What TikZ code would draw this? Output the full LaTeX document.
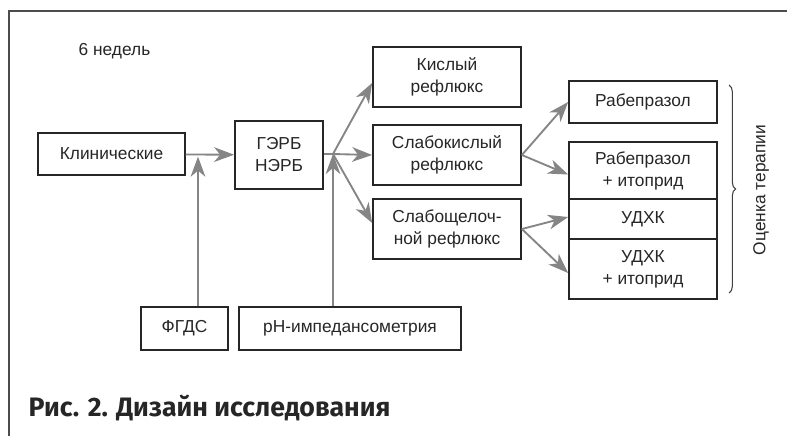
\documentclass[tikz,border=0pt]{standalone}
\usepackage{fontspec}
\setmainfont{Liberation Sans}
\newfontfamily\capfont{Fira Sans}
\usetikzlibrary{arrows.meta,decorations.pathreplacing}
\definecolor{arrgray}{HTML}{858585}
\definecolor{boxline}{HTML}{262626}
\definecolor{txtdark}{HTML}{262626}
\begin{document}
\begin{tikzpicture}[x=0.75pt,y=-0.75pt,
    box/.style={draw=boxline,line width=1.3pt,text=txtdark,align=center,inner sep=0pt,
      font=\fontsize{13}{16.5}\selectfont},
    arr/.style={draw=arrgray,line width=1.4pt,-{Stealth[length=15pt,width=11pt,inset=4.5pt]}},
    link/.style={draw=arrgray,line width=1.4pt}]
  \useasboundingbox (0,0) rectangle (787,436);
  \draw[color=black!70,line width=1.6pt] (787,11) -| (9,436);

  \node[anchor=base west,text=txtdark,font=\fontsize{13}{16}\selectfont] (weeks) at (74,55) {6 недель};

  \node[box,minimum width=110pt,minimum height=31.5pt] (klin) at (111.5,154) {Клинические};
  \node[box,minimum width=66pt,minimum height=51pt] (gerb) at (279,155) {ГЭРБ\\НЭРБ};

  \node[box,minimum width=111pt,minimum height=45pt] (kisl) at (447,77) {Кислый\\рефлюкс};
  \node[box,minimum width=111pt,minimum height=45pt] (slkisl) at (447,155) {Слабокислый\\рефлюкс};
  \node[box,minimum width=111pt,minimum height=45pt] (slsch) at (447,229) {Слабощелоч-\\ной рефлюкс};

  \node[box,minimum width=111pt,minimum height=31.5pt] (rab) at (643,102) {Рабепразол};
  \node[box,minimum width=111pt,minimum height=42.75pt] (rabit) at (643,170.5) {Рабепразол\\+ итоприд};
  \node[box,minimum width=111pt,minimum height=30pt] (udhk) at (643,219) {УДХК};
  \node[box,minimum width=111pt,minimum height=45pt] (udhkit) at (643,269) {УДХК\\+ итоприд};

  \node[box,minimum width=65.25pt,minimum height=32.25pt] (fgds) at (184.5,328.5) {ФГДС};
  \node[box,minimum width=166.5pt,minimum height=32.25pt] (ph) at (350,328.5) {pH-импедансометрия};

  \coordinate (split) at (333,154);

  \draw[arr] (klin) -- (gerb);
  \draw[arr,shorten >=2pt] (fgds.north -| 198,0) -- (198,154);
  \draw[arr] (ph.north -| split) -- (split);
  \draw[link] (gerb.east |- split) -- (split);
  \draw[arr] (split) -- ([yshift=-4.5pt]kisl.west);
  \draw[arr] (split) -- (slkisl.west);
  \draw[arr] (split) -- ([yshift=4.5pt]slsch.west);

  \draw[arr] (slkisl.east) -- (rab.west);
  \draw[arr] (slkisl.east) -- ([yshift=-3pt]rabit.west);
  \draw[arr] (slsch.east) -- ([yshift=1.5pt]udhk.west);
  \draw[arr] (slsch.east) -- ([yshift=-3pt]udhkit.west);

  \draw[draw=black!75,line width=0.8pt,decorate,decoration={brace,amplitude=5pt}]
    (729,85) -- (729,293);
  \node[rotate=90,text=txtdark,font=\fontsize{13}{16}\selectfont] (eval) at (761,190) {Оценка терапии};

  \node[anchor=base west,text=black!85,font=\capfont\bfseries\fontsize{20}{24}\selectfont] (caption) at (24,416) {Рис. 2. Дизайн исследования};
\end{tikzpicture}
\end{document}
